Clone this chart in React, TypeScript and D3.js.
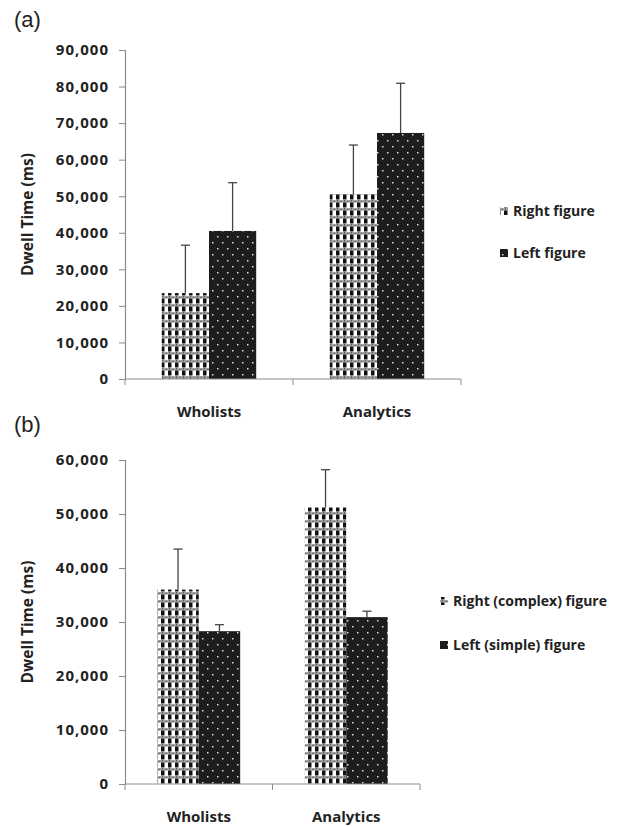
import React, { useEffect, useRef } from 'react'
import * as d3 from 'd3'

// data
const categories = ['Wholists', 'Analytics']

const aRight = [23500, 50600]
const aRightErr = [13100, 13400]
const aLeft = [40500, 67300]
const aLeftErr = [13200, 13600]
const aTicks = [0, 10000, 20000, 30000, 40000, 50000, 60000, 70000, 80000, 90000]
const aLegend = ['Right figure', 'Left figure']

const bRight = [36000, 51200]
const bRightErr = [7500, 7000]
const bLeft = [28300, 30900]
const bLeftErr = [1200, 1100]
const bTicks = [0, 10000, 20000, 30000, 40000, 50000, 60000]
const bLegend = ['Right (complex) figure', 'Left (simple) figure']

const FONT = '"Open Sans", "DejaVu Sans", sans-serif'

const App = () => {
    const ref = useRef<SVGSVGElement>(null)

    useEffect(() => {
        const svg = d3.select(ref.current)
        svg.selectAll('*').remove()

        // fill patterns
        const defs = svg.append('defs')
        const check = defs.append('pattern')
            .attr('id', 'check')
            .attr('patternUnits', 'userSpaceOnUse')
            .attr('width', 7).attr('height', 8)
        check.append('rect').attr('width', 7).attr('height', 8).attr('fill', '#fff')
        check.append('rect').attr('x', 0).attr('y', 0).attr('width', 7).attr('height', 2.5).attr('fill', '#a0a0a0')
        check.append('rect').attr('x', 1).attr('y', 0.5).attr('width', 1).attr('height', 1).attr('fill', '#333')
        check.append('rect').attr('x', 4.5).attr('y', 1.2).attr('width', 1).attr('height', 1).attr('fill', '#333')
        check.append('rect').attr('x', 0).attr('y', 2.5).attr('width', 3.5).attr('height', 5).attr('fill', '#111')

        const dots = defs.append('pattern')
            .attr('id', 'dots')
            .attr('patternUnits', 'userSpaceOnUse')
            .attr('width', 10).attr('height', 12)
        dots.append('rect').attr('width', 10).attr('height', 12).attr('fill', '#1e1c1c')
        dots.append('rect').attr('x', 2).attr('y', 2).attr('width', 1.5).attr('height', 1.5).attr('fill', '#ddd')
        dots.append('rect').attr('x', 7).attr('y', 8).attr('width', 1.5).attr('height', 1.5).attr('fill', '#ddd')

        const panel = (opts: {
            label: string, labelY: number, top: number, bottom: number, right: number,
            ticks: number[], right1: number[], right1Err: number[], left1: number[], left1Err: number[],
            legend: string[], legendX: number, legendY: number[], catY: number
        }) => {
            const g = svg.append('g')
            const x = d3.scaleBand().domain(categories).range([125, opts.right]).paddingInner(0).paddingOuter(0)
            const y = d3.scaleLinear().domain([0, d3.max(opts.ticks) as number]).range([opts.bottom, opts.top])
            const inner = d3.scaleBand().domain(['r', 'l']).range([0, x.bandwidth()]).paddingOuter(0.78).paddingInner(0)

            g.append('text')
                .attr('x', 14).attr('y', opts.labelY)
                .style('font-family', '"Liberation Sans", Arial, sans-serif')
                .style('font-size', '22px')
                .attr('fill', '#222')
                .text(opts.label)

            // y axis
            const yAxis = g.append('g')
                .attr('transform', 'translate(125,0)')
                .call(d3.axisLeft(y).tickValues(opts.ticks).tickSize(6).tickPadding(10).tickFormat(d3.format(',')))
            yAxis.select('.domain').attr('stroke', '#8c8c8c').attr('stroke-width', 1.2)
            yAxis.selectAll('.tick line').attr('stroke', '#8c8c8c')
            yAxis.selectAll('text')
                .style('font-family', FONT).style('font-size', '15px').style('font-weight', 'bold')
                .style('letter-spacing', '1px')
                .attr('fill', '#222')

            g.append('text')
                .attr('transform', `translate(28,${(opts.top + opts.bottom) / 2}) rotate(-90)`)
                .attr('text-anchor', 'middle')
                .attr('dy', '0.35em')
                .style('font-family', FONT).style('font-size', '15.5px').style('font-weight', 'bold')
                .attr('fill', '#222')
                .text('Dwell Time (ms)')

            // bars
            const groups = [
                { key: 'r', vals: opts.right1, errs: opts.right1Err, fill: 'url(#check)' },
                { key: 'l', vals: opts.left1, errs: opts.left1Err, fill: 'url(#dots)' }
            ]
            groups.forEach(s => {
                categories.forEach((c, i) => {
                    const bx = (x(c) as number) + (inner(s.key) as number)
                    const bw = inner.bandwidth()
                    g.append('rect')
                        .attr('x', bx).attr('y', y(s.vals[i]))
                        .attr('width', bw).attr('height', y(0) - y(s.vals[i]))
                        .attr('fill', s.fill)
                })
            })
            groups.forEach(s => {
                categories.forEach((c, i) => {
                    const cx = (x(c) as number) + (inner(s.key) as number) + inner.bandwidth() / 2
                    const yt = y(s.vals[i] + s.errs[i])
                    g.append('line').attr('x1', cx).attr('x2', cx).attr('y1', y(s.vals[i])).attr('y2', yt)
                        .attr('stroke', '#444').attr('stroke-width', 1.3)
                    g.append('line').attr('x1', cx - 4.5).attr('x2', cx + 4.5).attr('y1', yt).attr('y2', yt)
                        .attr('stroke', '#444').attr('stroke-width', 1.3)
                })
            })

            // x axis
            const xa = g.append('g')
            xa.append('line').attr('x1', 125).attr('x2', opts.right).attr('y1', y(0)).attr('y2', y(0))
                .attr('stroke', '#8c8c8c').attr('stroke-width', 1.2)
            const edges = [125, ...categories.map(c => (x(c) as number) + x.bandwidth())]
            edges.forEach(e => {
                xa.append('line').attr('x1', e).attr('x2', e).attr('y1', y(0)).attr('y2', y(0) + 6)
                    .attr('stroke', '#8c8c8c')
            })
            categories.forEach(c => {
                xa.append('text')
                    .attr('x', (x(c) as number) + x.bandwidth() / 2).attr('y', opts.catY)
                    .attr('text-anchor', 'middle')
                    .style('font-family', FONT).style('font-size', '15px').style('font-weight', 'bold')
                    .attr('fill', '#222')
                    .text(c)
            })

            // legend
            const fills = ['url(#check)', 'url(#dots)']
            opts.legend.forEach((t, i) => {
                g.append('rect').attr('x', opts.legendX).attr('y', opts.legendY[i] - 4).attr('width', 8).attr('height', 8)
                    .attr('fill', fills[i])
                g.append('text').attr('x', opts.legendX + 13).attr('y', opts.legendY[i]).attr('dy', '0.35em')
                    .style('font-family', FONT).style('font-size', '14px').style('font-weight', 'bold')
                    .attr('fill', '#222')
                    .text(t)
            })
        }

        panel({
            label: '(a)', labelY: 27, top: 50, bottom: 379, right: 461,
            ticks: aTicks, right1: aRight, right1Err: aRightErr, left1: aLeft, left1Err: aLeftErr,
            legend: aLegend, legendX: 500, legendY: [211, 253], catY: 417
        })
        panel({
            label: '(b)', labelY: 432, top: 460, bottom: 784, right: 420,
            ticks: bTicks, right1: bRight, right1Err: bRightErr, left1: bLeft, left1Err: bLeftErr,
            legend: bLegend, legendX: 440, legendY: [601, 645], catY: 822
        })
    }, [])

    return (
        <svg ref={ref} width={635} height={827}
            style={{ position: 'absolute', left: 0, top: 0, background: '#fff' }} />
    )
}

export default App
